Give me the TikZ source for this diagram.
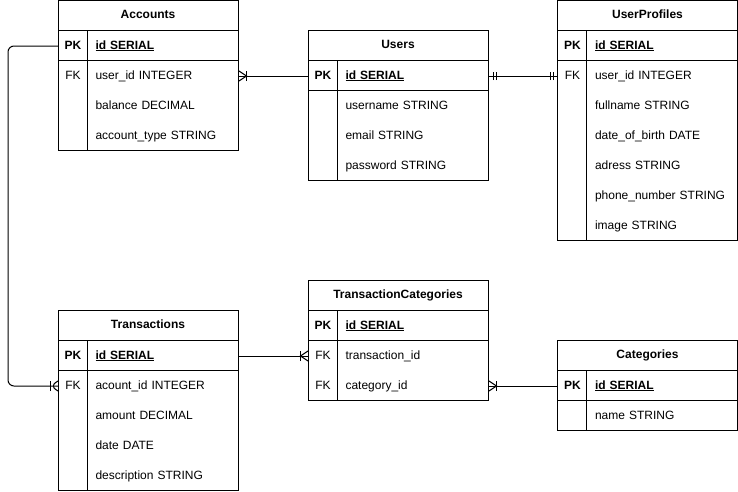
\documentclass[tikz,border=0pt]{standalone}
\usepackage{fontspec}
\setmainfont{Liberation Sans}
\usetikzlibrary{
  arrows.meta,
  calc,
  positioning,
  decorations.markings
}

\tikzset{
  txt/.style={font=\fontsize{12}{14}\selectfont, text height=8.5, text depth=2.5},
  bold/.style={font=\fontsize{12}{14}\selectfont\bfseries, text height=8.5, text depth=2.5},
  title/.style={draw, bold, minimum width=180, minimum height=30, inner sep=0},
  keycell/.style={txt, minimum width=29, minimum height=30, inner sep=0, anchor=north west},
  fieldcell/.style={txt, minimum width=151, text width=135, align=left,
    minimum height=30, inner sep=0, anchor=north west},
  % crow's foot + bar at the end of a connector
  manyend/.style={postaction={decorate, decoration={markings,
    mark=at position 1 with {\draw (0,5) -- (-7.5,0) -- (0,-5); \draw (-7.5,5) -- (-7.5,-5);}}}},
  manystart/.style={postaction={decorate, decoration={markings,
    mark=at position 0 with {\draw (0,5) -- (7.5,0) -- (0,-5); \draw (7.5,5) -- (7.5,-5);}}}},
  % two bars: exactly one
  onestart/.style={postaction={decorate, decoration={markings,
    mark=at position 0 with {\draw (4.5,4) -- (4.5,-4); \draw (7.5,4) -- (7.5,-4);}}}},
  oneend/.style={postaction={decorate, decoration={markings,
    mark=at position 1 with {\draw (-4.5,4) -- (-4.5,-4); \draw (-7.5,4) -- (-7.5,-4);}}}}
}

\begin{document}
\begin{tikzpicture}[x=1pt,y=-1pt,line width=1pt]
  \useasboundingbox (0,0) rectangle (738,491);

  % Accounts
  \node[title] (acc) at (148,15.5) {Accounts};
  \node[keycell, bold] (acc-k0) at (58,30.5) {PK};
  \node[fieldcell, bold] (acc-f0) at (87,30.5) {\underline{id SERIAL}};
  \node[keycell] (acc-k1) at (58,60.5) {FK};
  \foreach \t [count=\i] in {user\_id INTEGER, balance DECIMAL, account\_type STRING}
    \node[fieldcell] (acc-f\i) at (87,30.5+30*\i) {\t};
  \draw (58,30.5) rectangle (238,150.5);
  \draw (58,60.5) -- (238,60.5);
  \draw (87,30.5) -- (87,150.5);

  % Users
  \node[title] (usr) at (398,45.5) {Users};
  \node[keycell, bold] (usr-k0) at (308,60.5) {PK};
  \node[fieldcell, bold] (usr-f0) at (337,60.5) {\underline{id SERIAL}};
  \foreach \t [count=\i] in {username STRING, email STRING, password STRING}
    \node[fieldcell] (usr-f\i) at (337,60.5+30*\i) {\t};
  \draw (308,60.5) rectangle (488,180.5);
  \draw (308,90.5) -- (488,90.5);
  \draw (337,60.5) -- (337,180.5);

  % UserProfiles
  \node[title] (prf) at (647.5,15.5) {UserProfiles};
  \node[keycell, bold] (prf-k0) at (557.5,30.5) {PK};
  \node[fieldcell, bold] (prf-f0) at (586.5,30.5) {\underline{id SERIAL}};
  \node[keycell] (prf-k1) at (557.5,60.5) {FK};
  \foreach \t [count=\i] in {user\_id INTEGER, fullname STRING, date\_of\_birth DATE,
      adress STRING, phone\_number STRING, image STRING}
    \node[fieldcell] (prf-f\i) at (586.5,30.5+30*\i) {\t};
  \draw (557.5,30.5) rectangle (737.5,240.5);
  \draw (557.5,60.5) -- (737.5,60.5);
  \draw (586.5,30.5) -- (586.5,240.5);

  % Transactions
  \node[title] (trn) at (148,325.5) {Transactions};
  \node[keycell, bold] (trn-k0) at (58,340.5) {PK};
  \node[fieldcell, bold] (trn-f0) at (87,340.5) {\underline{id SERIAL}};
  \node[keycell] (trn-k1) at (58,370.5) {FK};
  \foreach \t [count=\i] in {acount\_id INTEGER, amount DECIMAL, date DATE, description STRING}
    \node[fieldcell] (trn-f\i) at (87,340.5+30*\i) {\t};
  \draw (58,340.5) rectangle (238,490.5);
  \draw (58,370.5) -- (238,370.5);
  \draw (87,340.5) -- (87,490.5);

  % TransactionCategories
  \node[title] (tcat) at (398,295.5) {TransactionCategories};
  \node[keycell, bold] (tcat-k0) at (308,310.5) {PK};
  \node[fieldcell, bold] (tcat-f0) at (337,310.5) {\underline{id SERIAL}};
  \node[keycell] (tcat-k1) at (308,340.5) {FK};
  \node[keycell] (tcat-k2) at (308,370.5) {FK};
  \node[fieldcell] (tcat-f1) at (337,340.5) {transaction\_id};
  \node[fieldcell] (tcat-f2) at (337,370.5) {category\_id};
  \draw (308,310.5) rectangle (488,400.5);
  \draw (308,340.5) -- (488,340.5);
  \draw (337,310.5) -- (337,400.5);

  % Categories
  \node[title] (cat) at (647.5,355.5) {Categories};
  \node[keycell, bold] (cat-k0) at (557.5,370.5) {PK};
  \node[fieldcell, bold] (cat-f0) at (586.5,370.5) {\underline{id SERIAL}};
  \node[fieldcell] (cat-f1) at (586.5,400.5) {name STRING};
  \draw (557.5,370.5) rectangle (737.5,430.5);
  \draw (557.5,400.5) -- (737.5,400.5);
  \draw (586.5,370.5) -- (586.5,430.5);

  % relations
  \draw[manystart] (acc-f1.east) -- (usr-k0.west);
  \draw[onestart,oneend] (usr-f0.east) -- (prf-k1.west);
  \draw[manyend,rounded corners=6] (acc-k0.west) -- ++(-50,0) |- (trn-k1.west);
  \draw[manyend] (trn-f0.east) -- (tcat-k1.west);
  \draw[manystart] (tcat-f2.east) -- (cat-k0.west);
\end{tikzpicture}
\end{document}
